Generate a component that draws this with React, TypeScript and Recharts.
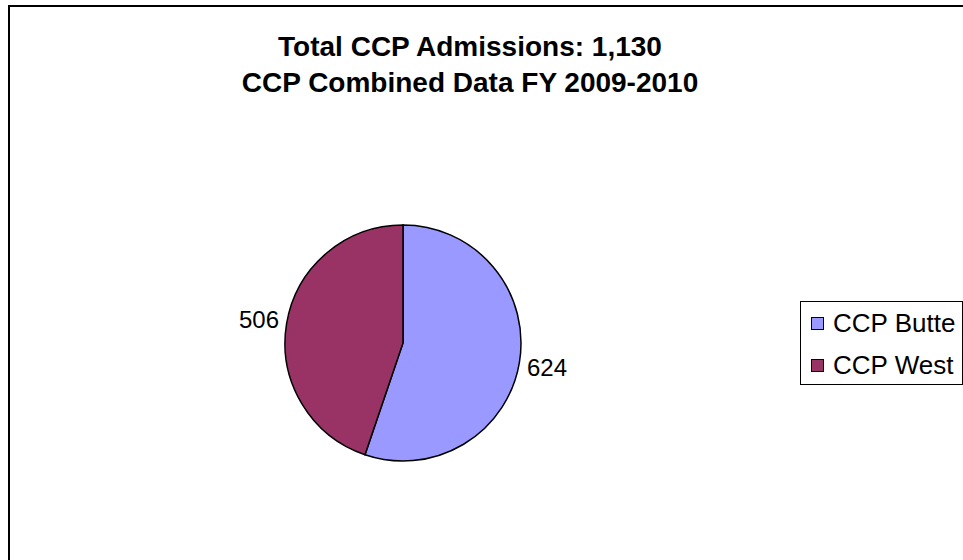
import React from 'react';
import { PieChart, Pie, Cell, Legend } from 'recharts';

const categories = ['CCP Butte', 'CCP West'];
const values = [624, 506];
const colors = ['#9999FF', '#993366'];
const titleLines = ['Total CCP Admissions: 1,130', 'CCP Combined Data FY 2009-2010'];

const data = categories.map((name, i) => ({ name, value: values[i] }));

const FONT = 'Arial, "Liberation Sans", Helvetica, sans-serif';
const RAD = Math.PI / 180;

// Outside-end labels, kept near the horizontal like Excel's best-fit placement
const renderLabel = (props: any) => {
  const { cx, cy, midAngle, outerRadius, value } = props;
  const c = Math.cos(-midAngle * RAD);
  const s = Math.sin(-midAngle * RAD);
  const sx = c >= 0 ? 1 : -1;
  const sy = s >= 0 ? 1 : -1;
  const x = cx + sx * (outerRadius + 26);
  const y = cy + sy * 24;
  return (
    <text
      x={x}
      y={y}
      textAnchor="middle"
      dominantBaseline="central"
      fontFamily={FONT}
      fontSize={24}
      fill="#000"
    >
      {value}
    </text>
  );
};

const LegendBox = () => (
  <div
    style={{
      border: '1px solid #000',
      background: '#fff',
      fontFamily: FONT,
      fontSize: 26,
      width: 163,
      height: 84,
      boxSizing: 'border-box',
      paddingLeft: 10,
    }}
  >
    {categories.map((c, i) => (
      <div
        key={c}
        style={{ display: 'flex', alignItems: 'center', height: 42, whiteSpace: 'nowrap' }}
      >
        <span
          style={{
            display: 'inline-block',
            width: 11,
            height: 11,
            background: colors[i],
            border: '1px solid #000',
            marginRight: 9,
            flex: 'none',
          }}
        />
        <span>{c}</span>
      </div>
    ))}
  </div>
);

export default function App() {
  return (
    <div
      style={{
        position: 'fixed',
        left: 0,
        top: 0,
        width: 963,
        height: 560,
        overflow: 'hidden',
        background: '#fff',
      }}
    >
      <div
        style={{
          position: 'absolute',
          left: 8,
          top: 5,
          width: 1000,
          height: 1000,
          border: '2px solid #000',
        }}
      />
      <div
        style={{
          position: 'absolute',
          left: 10,
          width: 920,
          top: 29,
          textAlign: 'center',
          fontFamily: FONT,
          fontWeight: 'bold',
          fontSize: 28,
          lineHeight: '36px',
          whiteSpace: 'nowrap',
        }}
      >
        {titleLines.map((t) => (
          <div key={t}>{t}</div>
        ))}
      </div>
      <div style={{ position: 'absolute', left: 0, top: 0 }}>
        <PieChart width={963} height={560} margin={{ top: 0, right: 0, bottom: 0, left: 0 }}>
          <Pie
            data={data}
            dataKey="value"
            nameKey="name"
            cx={403}
            cy={343}
            outerRadius={118}
            startAngle={90}
            endAngle={-270}
            stroke="#000"
            strokeWidth={1.5}
            label={renderLabel}
            labelLine={false}
            isAnimationActive={false}
          >
            {data.map((d, i) => (
              <Cell key={d.name} fill={colors[i]} />
            ))}
          </Pie>
          <Legend
            content={<LegendBox />}
            layout="vertical"
            wrapperStyle={{ position: 'absolute', left: 800, top: 301, width: 'auto' }}
          />
        </PieChart>
      </div>
    </div>
  );
}
